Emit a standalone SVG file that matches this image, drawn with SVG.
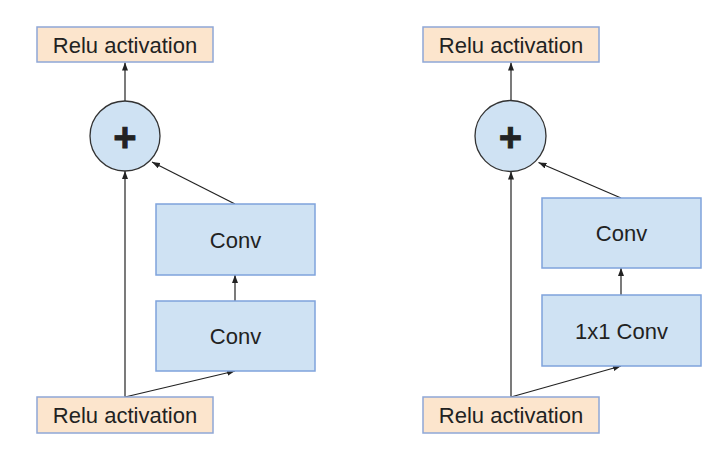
<svg xmlns="http://www.w3.org/2000/svg" width="725" height="474" viewBox="0 0 725 474">
<style>
.relu{fill:#fce5cd;stroke:#8fa7d6;stroke-width:1.5}
.conv{fill:#cfe2f3;stroke:#7fa3dc;stroke-width:1.5}
.sum{fill:#cfe2f3;stroke:#333;stroke-width:1.3}
.t{font-family:"Liberation Sans",Arial,sans-serif;font-size:22px;fill:#222;text-anchor:middle}
.p{font-family:"Liberation Sans",Arial,sans-serif;font-weight:bold;font-size:40px;fill:#222;text-anchor:middle;stroke:#222;stroke-width:0.8}
.c{fill:none;stroke:#222;stroke-width:1.2;marker-end:url(#ah)}
</style>
<defs>
<marker id="ah" markerUnits="userSpaceOnUse" markerWidth="8" markerHeight="6" refX="8" refY="3" orient="auto">
<path d="M0,0 L8,3 L0,6 z" fill="#222"/>
</marker>
</defs>
<rect width="725" height="474" fill="#fff"/>
<g id="connectors">
<line class="c" x1="125" y1="101" x2="125" y2="62.5"/>
<line class="c" x1="125" y1="397" x2="125" y2="171"/>
<line class="c" x1="125" y1="397" x2="235" y2="371"/>
<line class="c" x1="235" y1="301" x2="235" y2="275"/>
<line class="c" x1="235" y1="204" x2="152" y2="162"/>
<line class="c" x1="511" y1="101" x2="511" y2="62.5"/>
<line class="c" x1="511" y1="397" x2="511" y2="171.5"/>
<line class="c" x1="511" y1="397" x2="621" y2="366"/>
<line class="c" x1="621" y1="295" x2="621" y2="268"/>
<line class="c" x1="621" y1="198" x2="538.5" y2="162.5"/>
</g>
<g id="left-relu-out"><rect class="relu" x="37" y="27" width="176" height="35"/><text class="t" x="125" y="52.5">Relu activation</text></g>
<g id="left-sum"><circle class="sum" cx="125" cy="136" r="35"/><text class="p" x="125" y="150.5">+</text></g>
<g id="left-conv2"><rect class="conv" x="156" y="204" width="159" height="71"/><text class="t" x="235.5" y="247.5">Conv</text></g>
<g id="left-conv1"><rect class="conv" x="156" y="301" width="159" height="70"/><text class="t" x="235.5" y="344">Conv</text></g>
<g id="left-relu-in"><rect class="relu" x="37" y="397" width="176" height="36"/><text class="t" x="125" y="423">Relu activation</text></g>
<g id="right-relu-out"><rect class="relu" x="423" y="27" width="176" height="35"/><text class="t" x="511" y="52.5">Relu activation</text></g>
<g id="right-sum"><circle class="sum" cx="510.5" cy="136" r="35.5"/><text class="p" x="510.5" y="150.5">+</text></g>
<g id="right-conv"><rect class="conv" x="542" y="198" width="159" height="70"/><text class="t" x="621.5" y="241">Conv</text></g>
<g id="right-conv1x1"><rect class="conv" x="542" y="295" width="159" height="71"/><text class="t" x="621.5" y="338.5">1x1 Conv</text></g>
<g id="right-relu-in"><rect class="relu" x="423" y="397" width="176" height="36"/><text class="t" x="511" y="423">Relu activation</text></g>
</svg>
